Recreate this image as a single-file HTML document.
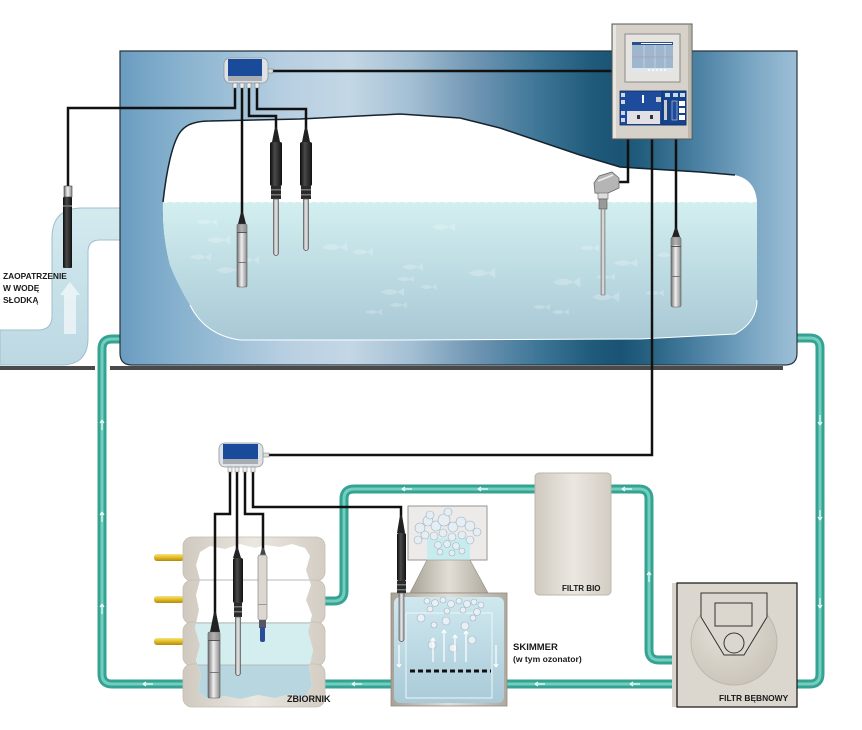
<!DOCTYPE html>
<html><head><meta charset="utf-8"><style>
html,body{margin:0;padding:0;background:#fff;}
svg{display:block;}
text{font-family:"Liberation Sans",Arial,sans-serif;font-weight:bold;fill:#1a1a1a;}
</style></head><body>
<svg width="862" height="730" viewBox="0 0 862 730" xmlns="http://www.w3.org/2000/svg">
<defs>
<linearGradient id="tankG" gradientUnits="userSpaceOnUse" x1="120" y1="0" x2="797" y2="0">
<stop offset="0" stop-color="#6a9cc0"/><stop offset="0.08" stop-color="#85b0cd"/><stop offset="0.25" stop-color="#b9d0e2"/>
<stop offset="0.34" stop-color="#c3d7e5"/><stop offset="0.43" stop-color="#a3bfd3"/><stop offset="0.52" stop-color="#7197b4"/>
<stop offset="0.62" stop-color="#3d7596"/><stop offset="0.70" stop-color="#1f5a7a"/><stop offset="0.74" stop-color="#1a5374"/>
<stop offset="0.79" stop-color="#2a6586"/><stop offset="0.86" stop-color="#4f84a6"/><stop offset="0.94" stop-color="#7ea9c6"/>
<stop offset="1" stop-color="#9dbfd6"/></linearGradient>
<linearGradient id="waterG" gradientUnits="userSpaceOnUse" x1="0" y1="202" x2="0" y2="340">
<stop offset="0" stop-color="#d3eff0"/><stop offset="1" stop-color="#a8c8d5"/></linearGradient>
<linearGradient id="pipeG" x1="0" y1="0" x2="0" y2="1">
<stop offset="0" stop-color="#d3eaef"/><stop offset="1" stop-color="#bcd8e2"/></linearGradient>
<clipPath id="innerClip"><path d="M163,202 C166,175 172,140 182,130 Q190,121 210,121 L300,119 L400,114 L460,118 L500,128 L580,155 L620,167 L700,172 L735,175 Q757,180 757,205 L757,300 Q757,322 735,334 L640,339 L400,340 L240,340 Q205,335 190,305 Q178,285 170,265 Q162,235 163,202 Z"/></clipPath>
<linearGradient id="silver" x1="0" y1="0" x2="1" y2="0">
<stop offset="0" stop-color="#6e6e6e"/><stop offset="0.45" stop-color="#f0f0f0"/><stop offset="1" stop-color="#8a8a8a"/></linearGradient>
<linearGradient id="blk" x1="0" y1="0" x2="1" y2="0">
<stop offset="0" stop-color="#0c0c0c"/><stop offset="0.4" stop-color="#4a4a4a"/><stop offset="1" stop-color="#111"/></linearGradient>
<linearGradient id="rod" x1="0" y1="0" x2="1" y2="0">
<stop offset="0" stop-color="#9a9a9a"/><stop offset="0.5" stop-color="#e8e8e8"/><stop offset="1" stop-color="#a0a0a0"/></linearGradient>
<linearGradient id="beige" x1="0" y1="0" x2="1" y2="0">
<stop offset="0" stop-color="#cfc9bf"/><stop offset="0.5" stop-color="#ebe7e1"/><stop offset="1" stop-color="#d3cdc3"/></linearGradient>
<linearGradient id="gold" x1="0" y1="0" x2="0" y2="1">
<stop offset="0" stop-color="#f7e47e"/><stop offset="0.5" stop-color="#e2bb22"/><stop offset="1" stop-color="#b08a10"/></linearGradient>
<linearGradient id="cone" x1="0" y1="0" x2="1" y2="0">
<stop offset="0" stop-color="#a8a296"/><stop offset="0.5" stop-color="#e2ded6"/><stop offset="1" stop-color="#b0aa9e"/></linearGradient>
<linearGradient id="skW" x1="0" y1="0" x2="0" y2="1">
<stop offset="0" stop-color="#cfe8ef"/><stop offset="1" stop-color="#a9cad8"/></linearGradient>
<radialGradient id="drum" cx="0.4" cy="0.35" r="0.7">
<stop offset="0" stop-color="#e6e2da"/><stop offset="1" stop-color="#c9c3b8"/></radialGradient>
<path id="fish" d="M0,0 q8,-5 16,0 q-8,5 -16,0 z M15,0 l6,-4 l0,8 z"/>
<clipPath id="zbClip"><path d="M200,552 L210,546 L225,549 L240,544 L255,548 L265,545 L280,547 L292,544 L305,548 L310,556 L306,570 L311,585 L306,600 L312,615 L308,632 L313,650 L309,668 L312,685 L305,697 L290,694 L275,698 L258,695 L240,699 L225,696 L208,699 L198,692 L201,675 L196,660 L200,645 L195,628 L199,610 L196,595 L200,580 L196,565 Z"/></clipPath>
</defs>

<!-- teal pipes -->
<g fill="none" stroke-linejoin="round">
<g stroke="#35a292" stroke-width="9">
<path d="M120,339 L112,339 Q102,339 102,349 L102,674 Q102,684 112,684 L680,684"/>
<path d="M790,338 L810,338 Q820,338 820,348 L820,674 Q820,684 810,684 L790,684"/>
<path d="M680,660 L659,660 Q649,660 649,650 L649,499 Q649,489 639,489 L605,489"/>
<path d="M540,489 L354,489 Q344,489 344,499 L344,591 Q344,601 334,601 L320,601"/>
</g>
<g stroke="#72cfc0" stroke-width="3">
<path d="M120,339 L112,339 Q102,339 102,349 L102,674 Q102,684 112,684 L680,684"/>
<path d="M790,338 L810,338 Q820,338 820,348 L820,674 Q820,684 810,684 L790,684"/>
<path d="M680,660 L659,660 Q649,660 649,650 L649,499 Q649,489 639,489 L605,489"/>
<path d="M540,489 L354,489 Q344,489 344,499 L344,591 Q344,601 334,601 L320,601"/>
</g>
<g stroke="#fff" stroke-width="1.2" opacity="0.9">
<path d="M143,684 h10 M143,684 l3,-2 M143,684 l3,2"/>
<path d="M352,684 h10 M352,684 l3,-2 M352,684 l3,2"/>
<path d="M535,684 h10 M535,684 l3,-2 M535,684 l3,2"/>
<path d="M630,684 h10 M630,684 l3,-2 M630,684 l3,2"/>
<path d="M402,489 h10 M402,489 l3,-2 M402,489 l3,2"/>
<path d="M478,489 h10 M478,489 l3,-2 M478,489 l3,2"/>
<path d="M622,489 h10 M622,489 l3,-2 M622,489 l3,2"/>
<path d="M102,420 v10 M102,420 l-2,3 M102,420 l2,3"/>
<path d="M102,512 v10 M102,512 l-2,3 M102,512 l2,3"/>
<path d="M102,604 v10 M102,604 l-2,3 M102,604 l2,3"/>
<path d="M649,572 v10 M649,572 l-2,3 M649,572 l2,3"/>
<path d="M820,520 v-10 M820,520 l-2,-3 M820,520 l2,-3"/>
<path d="M820,608 v-10 M820,608 l-2,-3 M820,608 l2,-3"/>
<path d="M820,425 v-10 M820,425 l-2,-3 M820,425 l2,-3"/>
</g>
</g>

<!-- fresh water pipe -->
<path d="M0,330 L38,330 Q52,330 52,316 L52,238 Q52,208 82,208 L120,208 L120,240 L100,240 Q88,240 88,252 L88,338 Q88,365 61,365 L0,365 Z" fill="url(#pipeG)" stroke="#9fbfcc" stroke-width="1"/>
<polygon points="70,282 80,295 76,295 76,334 64,334 64,295 60,295" fill="#fff" opacity="0.6"/>

<!-- floor -->
<rect x="0" y="366" width="95" height="4" fill="#4a4a4a"/>
<rect x="110" y="366" width="673" height="4" fill="#4a4a4a"/>

<!-- main tank -->
<path d="M120,51 L797,51 L797,353 Q797,365 785,365 L132,365 Q120,365 120,353 Z" fill="url(#tankG)" stroke="#26343f" stroke-width="1.2"/>
<path d="M163,202 C166,175 172,140 182,130 Q190,121 210,121 L300,119 L400,114 L460,118 L500,128 L580,155 L620,167 L700,172 L735,175 Q757,180 757,205 L757,300 Q757,322 735,334 L640,339 L400,340 L240,340 Q205,335 190,305 Q178,285 170,265 Q162,235 163,202 Z" fill="#fff"/>
<g clip-path="url(#innerClip)">
<rect x="150" y="202" width="620" height="145" fill="url(#waterG)"/>
<path d="M150,203 q4,-3 8,0 q4,-3 8,0 q4,-3 8,0 q4,-3 8,0 q4,-3 8,0 q4,-3 8,0 q4,-3 8,0 q4,-3 8,0 q4,-3 8,0 q4,-3 8,0 q4,-3 8,0 q4,-3 8,0 q4,-3 8,0 q4,-3 8,0 q4,-3 8,0 q4,-3 8,0 q4,-3 8,0 q4,-3 8,0 q4,-3 8,0 q4,-3 8,0 q4,-3 8,0 q4,-3 8,0 q4,-3 8,0 q4,-3 8,0 q4,-3 8,0 q4,-3 8,0 q4,-3 8,0 q4,-3 8,0 q4,-3 8,0 q4,-3 8,0 q4,-3 8,0 q4,-3 8,0 q4,-3 8,0 q4,-3 8,0 q4,-3 8,0 q4,-3 8,0 q4,-3 8,0 q4,-3 8,0 q4,-3 8,0 q4,-3 8,0 q4,-3 8,0 q4,-3 8,0 q4,-3 8,0 q4,-3 8,0 q4,-3 8,0 q4,-3 8,0 q4,-3 8,0 q4,-3 8,0 q4,-3 8,0 q4,-3 8,0 q4,-3 8,0 q4,-3 8,0 q4,-3 8,0 q4,-3 8,0 q4,-3 8,0 q4,-3 8,0 q4,-3 8,0 q4,-3 8,0 q4,-3 8,0 q4,-3 8,0 q4,-3 8,0 q4,-3 8,0 q4,-3 8,0 q4,-3 8,0 q4,-3 8,0 q4,-3 8,0 q4,-3 8,0 q4,-3 8,0 q4,-3 8,0 q4,-3 8,0 q4,-3 8,0 q4,-3 8,0 q4,-3 8,0 q4,-3 8,0 q4,-3 8,0 L770,198 L150,198 Z" fill="#fff"/>
<g fill="#fff" opacity="0.22">
<use href="#fish" transform="translate(196,222)"/>
<use href="#fish" transform="translate(207,240) scale(1.1)"/>
<use href="#fish" transform="translate(190,257)"/>
<use href="#fish" transform="translate(216,270) scale(1.2)"/>
<use href="#fish" transform="translate(238,260)"/>
<use href="#fish" transform="translate(322,247) scale(1.2)"/>
<use href="#fish" transform="translate(352,252)"/>
<use href="#fish" transform="translate(432,227) scale(1.1)"/>
<use href="#fish" transform="translate(402,267)"/>
<use href="#fish" transform="translate(397,279) scale(0.8)"/>
<use href="#fish" transform="translate(420,287) scale(0.8)"/>
<use href="#fish" transform="translate(381,292) scale(1.1)"/>
<use href="#fish" transform="translate(390,305) scale(0.8)"/>
<use href="#fish" transform="translate(365,312) scale(0.8)"/>
<use href="#fish" transform="translate(468,273) scale(1.3)"/>
<use href="#fish" transform="translate(553,282) scale(1.3)"/>
<use href="#fish" transform="translate(580,248) scale(0.9)"/>
<use href="#fish" transform="translate(614,263) scale(1.1)"/>
<use href="#fish" transform="translate(596,277) scale(0.9)"/>
<use href="#fish" transform="translate(592,297) scale(1.3)"/>
<use href="#fish" transform="translate(533,307) scale(0.8)"/>
<use href="#fish" transform="translate(552,312) scale(0.8)"/>
<use href="#fish" transform="translate(645,293) scale(0.9)"/>
<use href="#fish" transform="translate(657,255) scale(0.9)"/>
</g>
</g>
<path d="M163,202 C166,175 172,140 182,130 Q190,121 210,121 L300,119 L400,114 L460,118 L500,128 L580,155 L620,167 L700,172 L735,175" fill="none" stroke="#15232e" stroke-width="1.5"/>
<path d="M757,300 Q757,322 735,334 L640,339 L400,340 L240,340 Q205,335 190,305" fill="none" stroke="#fff" stroke-width="1"/>

<!-- cables top -->
<g fill="none" stroke="#111" stroke-width="2.5">
<path d="M235,86 L235,108 L68,108 L68,188"/>
<path d="M242,86 L242,214"/>
<path d="M249,86 L249,116 L276,116 L276,128"/>
<path d="M257,86 L257,109 L306,109 L306,128"/>
<path d="M272,71 L613,71"/>
<path d="M628,138 L628,182 L616,182"/>
<path d="M652,138 L652,455 L268,455"/>
<path d="M676,138 L676,230"/>
</g>

<!-- pipe sensor -->
<rect x="64" y="186" width="8" height="11" fill="url(#silver)" stroke="#444" stroke-width="0.6"/>
<rect x="63" y="197" width="9" height="71" rx="1" fill="url(#blk)"/>
<rect x="63" y="205" width="9" height="2" fill="#666"/>

<!-- top black sensors -->
<g>
<polygon points="275,127 277,127 280,142 272,142" fill="#222"/>
<rect x="270" y="142" width="12" height="44" rx="2" fill="url(#blk)"/>
<rect x="271" y="186" width="10" height="13" fill="#2a2a2a"/>
<rect x="271" y="189" width="10" height="1.5" fill="#777"/><rect x="271" y="194" width="10" height="1.5" fill="#777"/>
<path d="M273.5,199 h5 v54 a2.5,2.5 0 0 1 -5,0 z" fill="url(#rod)" stroke="#555" stroke-width="0.7"/>
<polygon points="305,127 307,127 310,142 302,142" fill="#222"/>
<rect x="300" y="142" width="12" height="44" rx="2" fill="url(#blk)"/>
<rect x="301" y="186" width="10" height="13" fill="#2a2a2a"/>
<rect x="301" y="189" width="10" height="1.5" fill="#777"/><rect x="301" y="194" width="10" height="1.5" fill="#777"/>
<path d="M303.5,199 h5 v49 a2.5,2.5 0 0 1 -5,0 z" fill="url(#rod)" stroke="#555" stroke-width="0.7"/>
</g>
<!-- silver level probes -->
<g>
<polygon points="241,212 243,212 246,224 238,224" fill="#222"/>
<rect x="237" y="224" width="10" height="63" rx="1.5" fill="url(#silver)" stroke="#555" stroke-width="0.6"/>
<rect x="237" y="224" width="10" height="8" fill="#8a8a8a" opacity="0.6"/>
<rect x="237" y="232" width="10" height="1" fill="#555"/><rect x="237" y="262" width="10" height="1" fill="#777"/>
<polygon points="675,228 677,228 680,237 672,237" fill="#222"/>
<rect x="671" y="237" width="10" height="70" rx="2" fill="url(#silver)" stroke="#555" stroke-width="0.6"/>
<rect x="671" y="237" width="10" height="8" fill="#8a8a8a" opacity="0.6"/>
<rect x="671" y="246" width="10" height="1" fill="#555"/><rect x="671" y="276" width="10" height="1" fill="#777"/>
</g>
<!-- temperature sensor -->
<g>
<polygon points="594,183 599,176 612,172 619,178 619,188 606,194 595,193" fill="#b5b5b5" stroke="#666" stroke-width="0.8"/>
<path d="M598,181 L613,175" stroke="#eee" stroke-width="1.5"/>
<rect x="598" y="193" width="10" height="6" fill="#ddd" stroke="#666" stroke-width="0.6"/>
<rect x="599" y="199" width="8" height="10" fill="#9a9a9a" stroke="#555" stroke-width="0.6"/>
<rect x="601" y="209" width="4" height="86" fill="url(#rod)" stroke="#666" stroke-width="0.5"/>
</g>

<!-- controller -->
<g>
<rect x="612" y="24" width="80" height="115" fill="#d6d2ca" stroke="#555" stroke-width="1"/>
<rect x="613" y="25" width="3" height="113" fill="#e8e6e2"/>
<rect x="688" y="25" width="3" height="113" fill="#bdb8ae"/>
<rect x="625" y="34" width="55" height="48" fill="#e6e4e0" stroke="#8a8a8a"/>
<rect x="632" y="42" width="41" height="30" fill="#9fb6cf"/>
<rect x="632" y="42" width="41" height="3" fill="#2b4f8a"/>
<rect x="641" y="43" width="31" height="1" fill="#fff"/>
<path d="M644,45 v23 M655,45 v23 M665,45 v23" stroke="#c8d6e4" stroke-width="0.8"/>
<path d="M632,57 h41" stroke="#b39aa6" stroke-width="0.8"/>
<rect x="632" y="68" width="41" height="4" fill="#dfe6ee"/>
<path d="M648,70 h2 M652,70 h2 M656,70 h2 M660,70 h2 M664,70 h2" stroke="#fff" stroke-width="1.5"/>
<rect x="620" y="91" width="66" height="34" fill="#1d4c9c" stroke="#0d2a60" stroke-width="0.8"/>
<rect x="627" y="111" width="33" height="13" fill="#e0e0e6"/>
<rect x="637" y="115" width="3" height="4" fill="#333"/><rect x="650" y="115" width="3" height="4" fill="#333"/>
<rect x="621" y="93" width="4" height="4" fill="#cfd8ea"/><rect x="621" y="100" width="4" height="4" fill="#cfd8ea"/>
<rect x="621" y="111" width="4" height="4" fill="#cfd8ea"/><rect x="621" y="118" width="4" height="4" fill="#cfd8ea"/>
<rect x="642" y="95" width="2" height="8" fill="#fff"/>
<rect x="656" y="97" width="5" height="5" fill="#ccc"/>
<rect x="662" y="91" width="24" height="34" fill="#17428c" stroke="#0d2a60" stroke-width="0.6"/>
<rect x="665" y="93" width="5" height="4" fill="#c8d8f0"/><rect x="673" y="93" width="5" height="4" fill="#c8d8f0"/><rect x="680" y="93" width="5" height="4" fill="#c8d8f0"/>
<rect x="664" y="100" width="3" height="20" fill="#ccc"/>
<rect x="679" y="101" width="6" height="5" fill="#fff"/><rect x="679" y="108" width="6" height="5" fill="#fff"/><rect x="679" y="115" width="6" height="5" fill="#fff"/>
<rect x="672" y="101" width="5" height="19" fill="#1d4c9c" stroke="#cfd8ea" stroke-width="0.6"/>
</g>

<!-- top hub -->
<g>
<rect x="268" y="69" width="5" height="4" fill="#ddd" stroke="#777" stroke-width="0.5"/>
<rect x="224" y="58" width="44" height="25" rx="6" fill="#dde2e7" stroke="#8d969e" stroke-width="0.8"/>
<rect x="228" y="59" width="34" height="17" fill="#1a4a9a"/>
<rect x="228" y="76" width="34" height="5" fill="#a7adb3"/>
<rect x="233" y="83" width="4" height="5" fill="#eee" stroke="#777" stroke-width="0.5"/>
<rect x="240" y="83" width="4" height="5" fill="#eee" stroke="#777" stroke-width="0.5"/>
<rect x="247" y="83" width="4" height="5" fill="#eee" stroke="#777" stroke-width="0.5"/>
<rect x="255" y="83" width="4" height="5" fill="#eee" stroke="#777" stroke-width="0.5"/>
</g>

<!-- label fresh water -->
<text x="3" y="279" font-size="8.4">ZAOPATRZENIE</text>
<text x="3" y="291" font-size="8.4">W WODĘ</text>
<text x="3" y="303" font-size="8.4">SŁODKĄ</text>

<!-- yellow pipes -->
<rect x="154" y="554" width="30" height="7" rx="3" fill="url(#gold)"/>
<rect x="154" y="596" width="30" height="7" rx="3" fill="url(#gold)"/>
<rect x="154" y="638" width="30" height="7" rx="3" fill="url(#gold)"/>

<!-- zbiornik -->
<g>
<rect x="183" y="537" width="142" height="44" rx="9" fill="url(#beige)" stroke="#c3bdb2" stroke-width="0.8"/>
<rect x="183" y="580" width="142" height="44" rx="9" fill="url(#beige)" stroke="#c3bdb2" stroke-width="0.8"/>
<rect x="183" y="622" width="142" height="44" rx="9" fill="url(#beige)" stroke="#c3bdb2" stroke-width="0.8"/>
<rect x="183" y="664" width="142" height="43" rx="9" fill="url(#beige)" stroke="#c3bdb2" stroke-width="0.8"/>
<g clip-path="url(#zbClip)">
<rect x="190" y="540" width="130" height="165" fill="#fff"/>
<rect x="190" y="622" width="130" height="45" fill="#d4eef0"/>
<rect x="190" y="665" width="130" height="40" fill="#b8d6e0"/>
<path d="M190,580 h130 M190,623 h130 M190,665 h130" stroke="#b9b9b9" stroke-width="1"/>
</g>
</g>

<!-- skimmer -->
<g>
<rect x="408" y="506" width="79" height="54" fill="#ecebea" stroke="#9a968e" stroke-width="1"/>
<rect x="427" y="538" width="43" height="22" fill="#c8ecee"/>
<g fill="#e6eef4" stroke="#9fb2c0" stroke-width="0.6">
<circle cx="420" cy="528" r="5"/><circle cx="428" cy="521" r="5"/><circle cx="436" cy="526" r="5"/><circle cx="444" cy="520" r="6"/>
<circle cx="453" cy="527" r="5"/><circle cx="461" cy="522" r="5"/><circle cx="470" cy="526" r="5"/><circle cx="477" cy="532" r="4"/>
<circle cx="418" cy="540" r="4"/><circle cx="425" cy="535" r="4"/><circle cx="434" cy="536" r="4"/><circle cx="443" cy="533" r="4"/>
<circle cx="452" cy="537" r="4"/><circle cx="462" cy="535" r="4"/><circle cx="470" cy="540" r="4"/><circle cx="438" cy="545" r="3.5"/>
<circle cx="447" cy="544" r="3.5"/><circle cx="456" cy="546" r="3.5"/><circle cx="430" cy="515" r="4"/><circle cx="448" cy="512" r="4"/>
<circle cx="440" cy="552" r="3"/><circle cx="452" cy="553" r="3"/><circle cx="462" cy="551" r="3"/>
</g>
<polygon points="427,560 470,560 488,593 410,593" fill="url(#cone)" stroke="#8f8a80" stroke-width="0.6"/>
<rect x="391" y="593" width="116" height="113" fill="url(#cone)" stroke="#8f8a80" stroke-width="0.8"/>
<rect x="394" y="597" width="110" height="106" rx="6" fill="url(#skW)"/>
<rect x="406" y="613" width="86" height="85" fill="none" stroke="#eef6f8" stroke-width="1"/>
<g fill="#e8f0f4" stroke="#9fb2c0" stroke-width="0.6">
<circle cx="427" cy="601" r="3"/><circle cx="435" cy="603" r="3.5"/><circle cx="443" cy="600" r="3"/><circle cx="451" cy="604" r="3.5"/>
<circle cx="459" cy="601" r="3"/><circle cx="467" cy="604" r="3.5"/><circle cx="474" cy="602" r="3"/><circle cx="481" cy="605" r="3"/>
<circle cx="430" cy="609" r="3"/><circle cx="447" cy="611" r="3"/><circle cx="463" cy="610" r="3"/><circle cx="477" cy="612" r="3.5"/>
<circle cx="421" cy="618" r="4"/><circle cx="446" cy="621" r="4"/><circle cx="465" cy="626" r="4"/><circle cx="434" cy="625" r="3"/>
<circle cx="473" cy="618" r="3"/><circle cx="432" cy="645" r="4"/><circle cx="453" cy="648" r="4"/><circle cx="472" cy="640" r="4"/>
</g>
<g stroke="#fff" stroke-width="1.2" fill="none">
<path d="M433,662 v-24 M433,638 l-2,3 M433,638 l2,3"/>
<path d="M444,662 v-32 M444,630 l-2,3 M444,630 l2,3"/>
<path d="M455,662 v-27 M455,635 l-2,3 M455,635 l2,3"/>
<path d="M466,662 v-31 M466,631 l-2,3 M466,631 l2,3"/>
<path d="M399,645 v22 M399,667 l-2,-3 M399,667 l2,-3"/>
<path d="M496,645 v22 M496,667 l-2,-3 M496,667 l2,-3"/>
</g>
<path d="M410,671 H491" stroke="#111" stroke-width="3" stroke-dasharray="5,3"/>
</g>

<!-- filtr bio -->
<rect x="535" y="473" width="76" height="122" rx="4" fill="url(#beige)" stroke="#bdb6aa" stroke-width="1"/>
<text x="562" y="591" font-size="8">FILTR BIO</text>

<!-- filtr bebnowy -->
<g>
<rect x="672" y="583" width="125" height="124" fill="#d9d4cb"/>
<rect x="677" y="583" width="120" height="124" fill="#dcd7ce" stroke="#111" stroke-width="1.2"/>
<circle cx="734" cy="642" r="43" fill="url(#drum)" stroke="#bdb7ad" stroke-width="1"/>
<polygon points="701,593 767,593 767,617 744,655 724,655 701,617" fill="#dcd7ce" stroke="#333" stroke-width="1"/>
<rect x="715" y="603" width="37" height="23" fill="none" stroke="#333" stroke-width="1"/>
<circle cx="734" cy="643" r="10" fill="none" stroke="#333" stroke-width="1"/>
<text x="719" y="701" font-size="8.4">FILTR BĘBNOWY</text>
</g>

<!-- lower cables -->
<g fill="none" stroke="#111" stroke-width="2.5">
<path d="M230,472 L230,514 L215,514 L215,614"/>
<path d="M237,472 L237,549"/>
<path d="M245,472 L245,514 L263,514 L263,549"/>
<path d="M253,472 L253,507 L401,507 L401,516"/>
</g>

<!-- lower hub -->
<g>
<rect x="263" y="453" width="6" height="4" fill="#ddd" stroke="#777" stroke-width="0.5"/>
<rect x="219" y="443" width="44" height="24" rx="6" fill="#dde2e7" stroke="#8d969e" stroke-width="0.8"/>
<rect x="223" y="444" width="35" height="15" fill="#1a4a9a"/>
<rect x="223" y="459" width="35" height="5" fill="#a7adb3"/>
<rect x="228" y="467" width="4" height="5" fill="#eee" stroke="#777" stroke-width="0.5"/>
<rect x="235" y="467" width="4" height="5" fill="#eee" stroke="#777" stroke-width="0.5"/>
<rect x="243" y="467" width="4" height="5" fill="#eee" stroke="#777" stroke-width="0.5"/>
<rect x="251" y="467" width="4" height="5" fill="#eee" stroke="#777" stroke-width="0.5"/>
</g>

<!-- lower sensors -->
<g>
<polygon points="214,612 216,612 220,632 210,632" fill="#222"/>
<rect x="208" y="632" width="12" height="66" rx="1.5" fill="url(#silver)" stroke="#555" stroke-width="0.6"/>
<rect x="208" y="632" width="12" height="8" fill="#8a8a8a" opacity="0.6"/>
<rect x="208" y="640" width="12" height="1" fill="#555"/><rect x="208" y="672" width="12" height="1" fill="#777"/>
<polygon points="236,548 238,548 241,558 233,558" fill="#222"/>
<rect x="233" y="558" width="10" height="45" rx="2" fill="url(#blk)"/>
<rect x="234" y="603" width="8" height="14" fill="#2a2a2a"/>
<rect x="234" y="606" width="8" height="1.5" fill="#777"/><rect x="234" y="611" width="8" height="1.5" fill="#777"/>
<path d="M235.5,617 h5 v56 a2.5,2.5 0 0 1 -5,0 z" fill="url(#rod)" stroke="#555" stroke-width="0.7"/>
<polygon points="262,548 264,548 266,555 260,555" fill="#444"/>
<rect x="258" y="555" width="9" height="65" rx="2" fill="#dcd8d0" stroke="#888" stroke-width="0.7"/>
<rect x="258" y="604" width="9" height="1" fill="#999"/>
<rect x="259" y="620" width="7" height="8" fill="#556" />
<rect x="260" y="627" width="5" height="15" rx="2" fill="#2a4a9a"/>
<polygon points="400,515 402,515 405,533 397,533" fill="#222"/>
<rect x="397" y="533" width="9" height="48" rx="2" fill="url(#blk)"/>
<rect x="397" y="581" width="9" height="12" fill="#2a2a2a"/>
<rect x="397" y="584" width="9" height="1.5" fill="#777"/><rect x="397" y="589" width="9" height="1.5" fill="#777"/>
<path d="M399,593 h5 v46 a2.5,2.5 0 0 1 -5,0 z" fill="url(#rod)" stroke="#555" stroke-width="0.7"/>
</g>

<text x="287" y="702" font-size="9">ZBIORNIK</text>
<text x="513" y="650" font-size="9.5">SKIMMER</text>
<text x="513" y="662" font-size="8.6">(w tym ozonator)</text>
</svg>
</body></html>
